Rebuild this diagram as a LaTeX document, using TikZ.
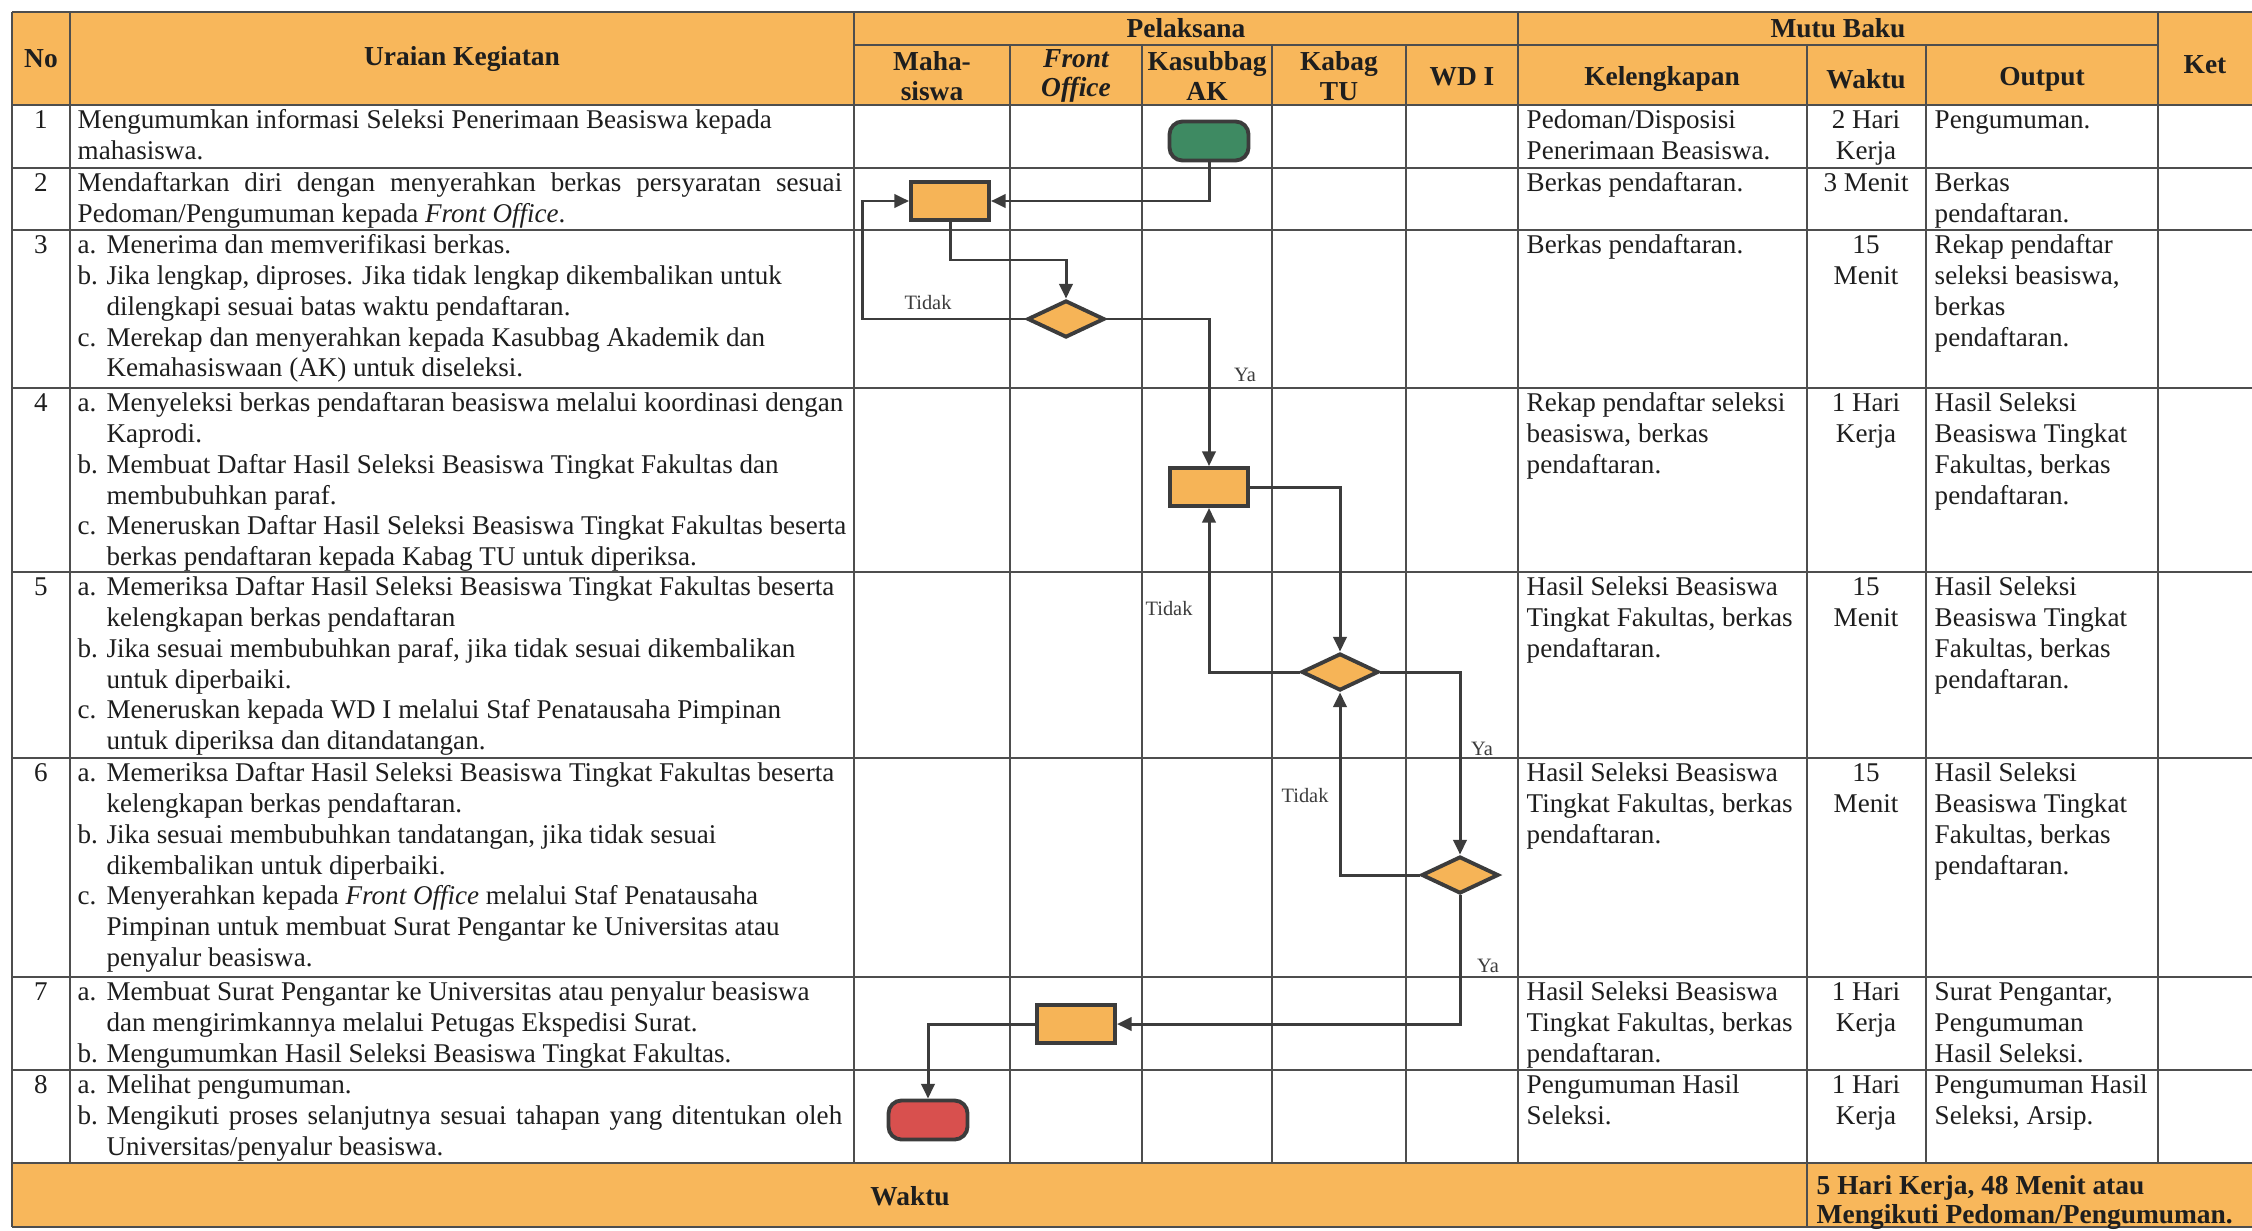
\documentclass[tikz,border=0pt]{standalone}
\usepackage{fontspec}
\setmainfont{Liberation Serif}
\usetikzlibrary{shapes.geometric,arrows.meta}

\definecolor{hdr}{HTML}{F8B75B}
\definecolor{shp}{HTML}{F6B457}
\definecolor{grn}{HTML}{3E8A62}
\definecolor{rd}{HTML}{D8504E}
\definecolor{lin}{HTML}{3C3C3C}
\definecolor{gridc}{HTML}{4E4E4E}
\definecolor{txt}{HTML}{1E1E1E}

\newcommand\bodyfont{\fontsize{7.7}{8.75}\selectfont}
\newcommand\hdrfont{\fontsize{7.8}{8.4}\selectfont\bfseries}
\newcommand\footfont{\fontsize{7.8}{8.2}\selectfont\bfseries}
\newcommand\lblfont{\fontsize{5.8}{6}\selectfont}
\newcommand\cst{\rule{0pt}{6pt}}
\newcommand\litem[1]{\makebox[8.2pt][l]{#1}}
\newcommand\hind{\hspace*{8.2pt}}
\newcommand\fullline[1]{\makebox[217.4pt][s]{#1}}

\begin{document}
\begin{tikzpicture}[x=0.01cm,y=-0.01cm,
  grid/.style={draw=gridc,line width=0.45pt},
  cell/.style={anchor=north west,inner sep=0pt,align=left,font=\bodyfont,text=txt},
  ccell/.style={anchor=north,inner sep=0pt,align=center,font=\bodyfont,text=txt},
  head/.style={inner sep=0pt,align=center,font=\hdrfont,text=txt},
  lbl/.style={inner sep=0pt,font=\lblfont,text=lin},
  proc/.style={draw=lin,line width=1.1pt,fill=shp,minimum width=0.78cm,minimum height=0.38cm,inner sep=0pt},
  dec/.style={diamond,draw=lin,line width=1.1pt,fill=shp,minimum width=0.77cm,minimum height=0.37cm,inner sep=0pt,aspect=2},
  term/.style={draw=lin,line width=1.1pt,rounded corners=0.13cm,minimum width=0.79cm,minimum height=0.39cm,inner sep=0pt},
  flow/.style={draw=lin,line width=0.85pt,-{Triangle[length=4.2pt,width=3.8pt]}}
]
\useasboundingbox (0,0) rectangle (2252,1230);
\fill[white] (0,0) rectangle (2252,1230);

% header and footer bands
\fill[hdr] (12,12) rectangle (2252,105);
\fill[hdr] (12,1163) rectangle (2252,1227);

% table rules
\draw[grid] (12,12) -- (2252,12);
\draw[grid] (854,45) -- (2158,45);
\foreach \y in {105,168,230,388,572,758,977,1070,1163,1227}
  \draw[grid] (12,\y) -- (2252,\y);
\draw[grid] (12,12) -- (12,1227);
\foreach \x in {70,854,1518,2158}
  \draw[grid] (\x,12) -- (\x,1163);
\foreach \x in {1010,1142,1272,1406,1926}
  \draw[grid] (\x,45) -- (\x,1163);
\draw[grid] (1807,45) -- (1807,1227);

% header labels
\node[head] (hNo) at (41,59) {No};
\node[head] (hUr) at (462,59) {Uraian Kegiatan};
\node[head] (hPel) at (1186,28) {Pelaksana};
\node[head] (hMutu) at (1838,28) {Mutu Baku};
\node[head] (hMhs) at (932,76) {Maha-\\siswa};
\node[head] (hFO) at (1076,76) {\itshape Front\\\itshape Office};
\node[head] (hKas) at (1207,76) {Kasubbag\\AK};
\node[head] (hKab) at (1339,76) {Kabag\\TU};
\node[head] (hWD) at (1462,77) {WD I};
\node[head] (hKel) at (1662,79) {Kelengkapan};
\node[head] (hWkt) at (1866,79) {Waktu};
\node[head] (hOut) at (2042,79) {Output};
\node[head] (hKet) at (2205,65) {Ket};

% row numbers
\foreach \n/\t in {1/105,2/168,3/230,4/388,5/572,6/758,7/977,8/1070}
  \node[ccell] (no\n) at (41,\t+2) {\cst\n};

% activity descriptions
\node[cell] (u1) at (77,107) {\cst Mengumumkan informasi Seleksi Penerimaan Beasiswa kepada\\mahasiswa.};
\node[cell] (u2) at (77,170) {\cst\fullline{Mendaftarkan diri dengan menyerahkan berkas persyaratan sesuai}\\Pedoman/Pengumuman kepada \textit{Front Office}.};
\node[cell] (u3) at (77,232) {\cst\litem{a.}Menerima dan memverifikasi berkas.\\
  \litem{b.}Jika lengkap, diproses. Jika tidak lengkap dikembalikan untuk\\
  \hind dilengkapi sesuai batas waktu pendaftaran.\\
  \litem{c.}Merekap dan menyerahkan kepada Kasubbag Akademik dan\\
  \hind Kemahasiswaan (AK) untuk diseleksi.};
\node[cell] (u4) at (77,390) {\cst\litem{a.}Menyeleksi berkas pendaftaran beasiswa melalui koordinasi dengan\\
  \hind Kaprodi.\\
  \litem{b.}Membuat Daftar Hasil Seleksi Beasiswa Tingkat Fakultas dan\\
  \hind membubuhkan paraf.\\
  \litem{c.}Meneruskan Daftar Hasil Seleksi Beasiswa Tingkat Fakultas beserta\\
  \hind berkas pendaftaran kepada Kabag TU untuk diperiksa.};
\node[cell] (u5) at (77,574) {\cst\litem{a.}Memeriksa Daftar Hasil Seleksi Beasiswa Tingkat Fakultas beserta\\
  \hind kelengkapan berkas pendaftaran\\
  \litem{b.}Jika sesuai membubuhkan paraf, jika tidak sesuai dikembalikan\\
  \hind untuk diperbaiki.\\
  \litem{c.}Meneruskan kepada WD I melalui Staf Penatausaha Pimpinan\\
  \hind untuk diperiksa dan ditandatangan.};
\node[cell] (u6) at (77,760) {\cst\litem{a.}Memeriksa Daftar Hasil Seleksi Beasiswa Tingkat Fakultas beserta\\
  \hind kelengkapan berkas pendaftaran.\\
  \litem{b.}Jika sesuai membubuhkan tandatangan, jika tidak sesuai\\
  \hind dikembalikan untuk diperbaiki.\\
  \litem{c.}Menyerahkan kepada \textit{Front Office} melalui Staf Penatausaha\\
  \hind Pimpinan untuk membuat Surat Pengantar ke Universitas atau\\
  \hind penyalur beasiswa.};
\node[cell] (u7) at (77,979) {\cst\litem{a.}Membuat Surat Pengantar ke Universitas atau penyalur beasiswa\\
  \hind dan mengirimkannya melalui Petugas Ekspedisi Surat.\\
  \litem{b.}Mengumumkan Hasil Seleksi Beasiswa Tingkat Fakultas.};
\node[cell] (u8) at (77,1072) {\cst\litem{a.}Melihat pengumuman.\\
  \fullline{\litem{b.}Mengikuti proses selanjutnya sesuai tahapan yang ditentukan oleh}\\
  \hind Universitas/penyalur beasiswa.};

% Kelengkapan
\node[cell] (k1) at (1526,107) {\cst Pedoman/Disposisi\\Penerimaan Beasiswa.};
\node[cell] (k2) at (1526,170) {\cst Berkas pendaftaran.};
\node[cell] (k3) at (1526,232) {\cst Berkas pendaftaran.};
\node[cell] (k4) at (1526,390) {\cst Rekap pendaftar seleksi\\beasiswa, berkas\\pendaftaran.};
\node[cell] (k5) at (1526,574) {\cst Hasil Seleksi Beasiswa\\Tingkat Fakultas, berkas\\pendaftaran.};
\node[cell] (k6) at (1526,760) {\cst Hasil Seleksi Beasiswa\\Tingkat Fakultas, berkas\\pendaftaran.};
\node[cell] (k7) at (1526,979) {\cst Hasil Seleksi Beasiswa\\Tingkat Fakultas, berkas\\pendaftaran.};
\node[cell] (k8) at (1526,1072) {\cst Pengumuman Hasil\\Seleksi.};

% Waktu
\node[ccell] (w1) at (1866,107) {\cst 2 Hari\\Kerja};
\node[ccell] (w2) at (1866,170) {\cst 3 Menit};
\node[ccell] (w3) at (1866,232) {\cst 15\\Menit};
\node[ccell] (w4) at (1866,390) {\cst 1 Hari\\Kerja};
\node[ccell] (w5) at (1866,574) {\cst 15\\Menit};
\node[ccell] (w6) at (1866,760) {\cst 15\\Menit};
\node[ccell] (w7) at (1866,979) {\cst 1 Hari\\Kerja};
\node[ccell] (w8) at (1866,1072) {\cst 1 Hari\\Kerja};

% Output
\node[cell] (o1) at (1934,107) {\cst Pengumuman.};
\node[cell] (o2) at (1934,170) {\cst Berkas\\pendaftaran.};
\node[cell] (o3) at (1934,232) {\cst Rekap pendaftar\\seleksi beasiswa,\\berkas\\pendaftaran.};
\node[cell] (o4) at (1934,390) {\cst Hasil Seleksi\\Beasiswa Tingkat\\Fakultas, berkas\\pendaftaran.};
\node[cell] (o5) at (1934,574) {\cst Hasil Seleksi\\Beasiswa Tingkat\\Fakultas, berkas\\pendaftaran.};
\node[cell] (o6) at (1934,760) {\cst Hasil Seleksi\\Beasiswa Tingkat\\Fakultas, berkas\\pendaftaran.};
\node[cell] (o7) at (1934,979) {\cst Surat Pengantar,\\Pengumuman\\Hasil Seleksi.};
\node[cell] (o8) at (1934,1072) {\cst Pengumuman Hasil\\Seleksi, Arsip.};

% footer
\node[head] (fW) at (910,1196) {Waktu};
\node[anchor=north west,inner sep=0pt,align=left,font=\footfont,text=txt] (fT) at (1816,1173)
  {\cst 5 Hari Kerja, 48 Menit atau\\Mengikuti Pedoman/Pengumuman.};

% flowchart symbols
\node[term,fill=grn] (start) at (1209,141) {};
\node[proc] (daftar) at (950,201) {};
\node[dec] (cek1) at (1066,319) {};
\node[proc] (seleksi) at (1209,487) {};
\node[dec] (cek2) at (1340,672) {};
\node[dec] (cek3) at (1460,875) {};
\node[proc] (surat) at (1076,1024) {};
\node[term,fill=rd] (stop) at (928,1120) {};

\coordinate (j1) at (1066,260);
\coordinate (back1) at (862,0);

% connectors
\draw[flow] (start.south) |- (daftar.east);
\draw[flow] (daftar.south) |- (j1) -- (cek1.north);
\draw[flow] (cek1.west) -- (cek1.west -| back1) |- (daftar.west);
\draw[flow] (cek1.east) -| (seleksi.north);
\draw[flow] (seleksi.east) -| (cek2.north);
\draw[flow] (cek2.west) -| (seleksi.south);
\draw[flow] (cek2.east) -| (cek3.north);
\draw[flow] (cek3.west) -| (cek2.south);
\draw[flow] (cek3.south) |- (surat.east);
\draw[flow] (surat.west) -| (stop.north);

% branch labels
\node[lbl] (t1) at (928,303) {Tidak};
\node[lbl] (y1) at (1245,375) {Ya};
\node[lbl] (t2) at (1169,609) {Tidak};
\node[lbl] (y2) at (1482,749) {Ya};
\node[lbl] (t3) at (1305,796) {Tidak};
\node[lbl] (y3) at (1488,966) {Ya};
\end{tikzpicture}
\end{document}
